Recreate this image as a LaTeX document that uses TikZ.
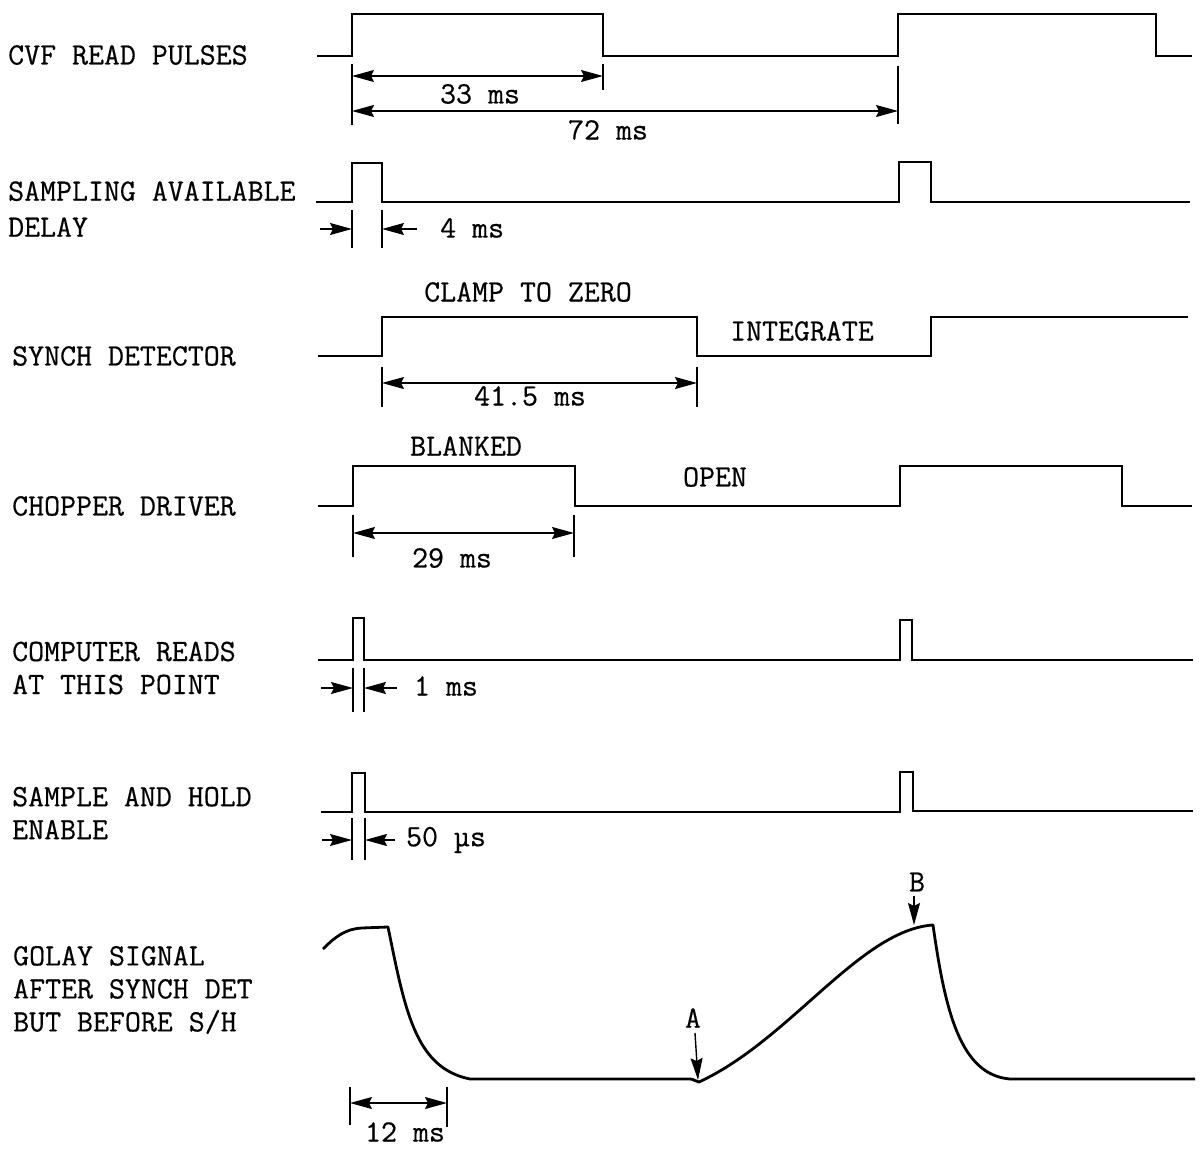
\documentclass[tikz,border=0pt]{standalone}
\usepackage{fontspec}
\setmonofont{Latin Modern Mono}[FakeBold=0.5]
\usetikzlibrary{arrows.meta}
\tikzset{
  sig/.style={line width=2.8pt, line join=miter},
  ext/.style={line width=1.4pt},
  dim/.style={line width=1.4pt, {Stealth[length=22pt,width=12pt,inset=3pt]}-{Stealth[length=22pt,width=12pt,inset=3pt]}},
  dimone/.style={line width=1.4pt, -{Stealth[length=22pt,width=12pt,inset=3pt]}},
  lbl/.style={font=\ttfamily\fontsize{31}{33}\selectfont, inner sep=0pt, align=left},
}
\begin{document}
\begin{tikzpicture}[x=1pt,y=-1pt]
\useasboundingbox (0,0) rectangle (1203,1158);
% left labels
\node[lbl,anchor=west] (l1) at (8,55) {CVF READ PULSES};
\node[lbl,anchor=west,font=\ttfamily\fontsize{31}{36}\selectfont] (l2) at (8,209) {SAMPLING AVAILABLE\\DELAY};
\node[lbl,anchor=west] (l3) at (12,356) {SYNCH DETECTOR};
\node[lbl,anchor=west] (l4) at (12,506) {CHOPPER DRIVER};
\node[lbl,anchor=west] (l5) at (12,668) {COMPUTER READS\\AT THIS POINT};
\node[lbl,anchor=west] (l6) at (12,813) {SAMPLE AND HOLD\\ENABLE};
\node[lbl,anchor=west] (l7) at (13,990) {GOLAY SIGNAL\\AFTER SYNCH DET\\BUT BEFORE S/H};

% row 1
\draw[sig] (317,56) -- (352,56) -- (352,14) -- (603,14) -- (603,56) -- (898,56) -- (898,14) -- (1156,14) -- (1156,56) -- (1192,56);
\coordinate (a1) at (352,76); \coordinate (b1) at (603,76);
\draw[ext] (352,64) -- (352,125);
\draw[ext] (603,64) -- (603,90);
\draw[dim] (a1) -- (b1);
\node[lbl] (t33) at (480,94) {33 ms};
\coordinate (a2) at (352,111); \coordinate (b2) at (898,111);
\draw[ext] (898,66) -- (898,124);
\draw[dim] (a2) -- (b2);
\node[lbl] (t72) at (608,130) {72 ms};

% row 2
\draw[sig] (316,202) -- (352,202) -- (352,163) -- (382,163) -- (382,202) -- (899,202) -- (899,162) -- (931,162) -- (931,202) -- (1190,202);
\draw[ext] (352,210) -- (352,248);
\draw[ext] (382,210) -- (382,248);
\coordinate (c1) at (320,229); \coordinate (c2) at (352,229);
\coordinate (c3) at (417,229); \coordinate (c4) at (382,229);
\draw[dimone] (c1) -- (c2);
\draw[dimone] (c3) -- (c4);
\node[lbl,anchor=west] (t4) at (440,228) {4 ms};

% row 3
\draw[sig] (318,356) -- (382,356) -- (382,317) -- (697,317) -- (697,356) -- (931,356) -- (931,317) -- (1188,317);
\node[lbl] (clamp) at (528,292) {CLAMP TO ZERO};
\node[lbl] (integ) at (802,331) {INTEGRATE};
\draw[ext] (382,367) -- (382,407);
\draw[ext] (697,367) -- (697,407);
\coordinate (d1) at (382,383); \coordinate (d2) at (697,383);
\draw[dim] (d1) -- (d2);
\node[lbl] (t415) at (530,396) {41.5 ms};

% row 4
\draw[sig] (318,506) -- (353,506) -- (353,466) -- (575,466) -- (575,506) -- (900,506) -- (900,466) -- (1122,466) -- (1122,506) -- (1192,506);
\node[lbl] (blank) at (466,446) {BLANKED};
\node[lbl] (open) at (715,477) {OPEN};
\draw[ext] (353,515) -- (353,557);
\draw[ext] (574,515) -- (574,557);
\coordinate (e1) at (353,533); \coordinate (e2) at (574,533);
\draw[dim] (e1) -- (e2);
\node[lbl] (t29) at (452,558) {29 ms};

% row 5
\draw[sig] (318,660) -- (353,660) -- (353,618) -- (364,618) -- (364,660) -- (900,660) -- (900,620) -- (912,620) -- (912,660) -- (1193,660);
\draw[ext] (353,668) -- (353,712);
\draw[ext] (364,668) -- (364,712);
\coordinate (f1) at (321,688); \coordinate (f2) at (353,688);
\coordinate (f3) at (397,688); \coordinate (f4) at (364,688);
\draw[dimone] (f1) -- (f2);
\draw[dimone] (f3) -- (f4);
\node[lbl] (t1) at (446,686) {1 ms};

% row 6
\draw[sig] (321,812) -- (352,812) -- (352,773) -- (365,773) -- (365,812) -- (900,812) -- (900,772) -- (913,772) -- (913,811) -- (1193,811);
\draw[ext] (352,818) -- (352,860);
\draw[ext] (365,818) -- (365,860);
\coordinate (g1) at (322,840); \coordinate (g2) at (352,840);
\coordinate (g3) at (395,840); \coordinate (g4) at (365,840);
\draw[dimone] (g1) -- (g2);
\draw[dimone] (g3) -- (g4);
\node[lbl] (t50) at (446,840) {50 µs};

% row 7 golay
\draw[sig, line join=round] (323,949) .. controls (335,937) and (345,929) .. (362,928) -- (388,927)
  .. controls (405,1010) and (415,1068) .. (470,1079) -- (690,1079)
  .. controls (694,1079) and (696,1082) .. (699,1082)
  .. controls (790,1040) and (860,930) .. (933,925)
  .. controls (945,1010) and (960,1075) .. (1010,1079) -- (1195,1079);
\node[lbl] (tA) at (693,1018) {A};
\coordinate (A1) at (695,1033); \coordinate (A2) at (698,1080);
\draw[dimone] (A1) -- (A2);
\node[lbl] (tB) at (917,882) {B};
\coordinate (B1) at (914,896); \coordinate (B2) at (914,925);
\draw[dimone] (B1) -- (B2);
\draw[ext] (350,1087) -- (350,1125);
\draw[ext] (447,1087) -- (447,1127);
\coordinate (h1) at (350,1103); \coordinate (h2) at (447,1103);
\draw[dim] (h1) -- (h2);
\node[lbl] (t12) at (405,1132) {12 ms};
\end{tikzpicture}
\end{document}
